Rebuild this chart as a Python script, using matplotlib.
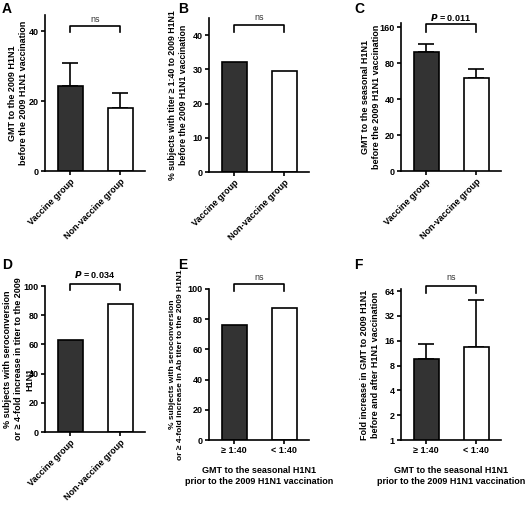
import numpy as np
import matplotlib.pyplot as plt
from matplotlib.transforms import blended_transform_factory

plt.rcParams['font.family'] = ['Liberation Sans', 'DejaVu Sans']
plt.rcParams['font.weight'] = 'bold'

W, H = 528, 511

# Data
groups = ['Vaccine group', 'Non-vaccine group']
titer_groups = ['\u2265 1:40', '< 1:40']

a_vals = [24.3, 18.0]
a_err = [6.6, 4.3]
b_vals = [32.2, 29.5]
c_vals = [99, 60]
c_err = [16, 11]
d_vals = [63, 88]
e_vals = [76, 87.5]
f_vals = [9.7, 13.6]
f_err = [5.1, 36.8]

c_ticks = [10, 20, 40, 80, 160]
c_ticklabels = ['0', '20', '40', '80', '160']
f_ticks = [1, 2, 4, 8, 16, 32, 64]

dark = '#333333'

fig = plt.figure(figsize=(W / 100, H / 100), dpi=100)


def make_ax(l, r, t, b):
    ax = fig.add_axes([l / W, 1 - b / H, (r - l) / W, (b - t) / H])
    ax.rect_px = (l, r, t, b)
    for s in ['top', 'right']:
        ax.spines[s].set_visible(False)
    for s in ['left', 'bottom']:
        ax.spines[s].set_linewidth(1.2)
    ax.tick_params(direction='out', length=3, width=1.2, labelsize=6.5, pad=1.5)
    ax.set_xlim(-0.5, 1.5)
    ax.set_xticks([0, 1])
    return ax


def bars(ax, vals, err=None):
    ax.bar([0, 1], vals, width=0.5, color=[dark, 'white'], edgecolor='black',
           linewidth=1.2, zorder=2)
    if err is not None:
        ax.errorbar([0, 1], vals, yerr=[[0, 0], err], fmt='none', ecolor='black',
                    elinewidth=1.2, capsize=5.5, capthick=1.2, zorder=1)


def bracket(ax, y_line, y_tick, y_text, label, italic_p=False):
    l, r, t, b = ax.rect_px
    f = lambda y: (b - y) / (b - t)
    tr = blended_transform_factory(ax.transData, ax.transAxes)
    ax.plot([0, 0, 1, 1], [f(y_tick), f(y_line), f(y_line), f(y_tick)],
            color='black', lw=1.2, transform=tr, clip_on=False)
    if italic_p:
        ax.text(0.5, f(y_text), r'$\bf{\it{P}}$' + label, transform=tr,
                ha='center', va='center', fontsize=6.5, fontweight='bold')
    else:
        ax.text(0.5, f(y_text), label, transform=tr, ha='center', va='center',
                fontsize=6.5, fontweight='normal', color='#333333')


def ylabel(ax, x_px, text, size=6.5, y_px=None):
    l, r, t, b = ax.rect_px
    if y_px is None:
        y_px = (t + b) / 2
    fig.text(x_px / W, 1 - y_px / H, text, rotation=90, ha='center',
             va='center', multialignment='center', fontsize=size, fontweight='bold')


def letter(x, y, s):
    fig.text(x / W, 1 - y / H, s, fontsize=10, fontweight='bold', va='top', ha='left')


# A
ax = make_ax(45, 145, 15, 171)
bars(ax, a_vals, a_err)
ax.set_ylim(0, 44.6)
ax.set_yticks([0, 20, 40])
ax.set_xticklabels(groups, rotation=45, ha='right', rotation_mode='anchor')
bracket(ax, 26, 32, 19, 'ns')
ylabel(ax, 18, 'GMT to the 2009 H1N1\nbefore the 2009 H1N1 vaccination')
letter(2, 2, 'A')

# B
ax = make_ax(209, 309, 18, 172)
bars(ax, b_vals)
ax.set_ylim(0, 45)
ax.set_yticks([0, 10, 20, 30, 40])
ax.set_xticklabels(groups, rotation=45, ha='right', rotation_mode='anchor')
bracket(ax, 25, 32, 18, 'ns')
ylabel(ax, 178, '% subjects with titer \u2265 1:40 to 2009 H1N1\nbefore the 2009 H1N1 vaccination',
       size=6.3)
letter(178, 2, 'B')

# C
ax = make_ax(401, 501, 23, 171)
ax.set_yscale('log', base=2)
bars(ax, c_vals, c_err)
ax.set_ylim(10, 173)
ax.set_yticks(c_ticks)
ax.set_yticklabels(c_ticklabels)
ax.minorticks_off()
ax.set_xticklabels(groups, rotation=45, ha='right', rotation_mode='anchor')
bracket(ax, 24, 32, 17, ' = 0.011', italic_p=True)
ylabel(ax, 371, 'GMT to the seasonal H1N1\nbefore the 2009 H1N1 vaccination')
letter(354, 2, 'C')

# D
ax = make_ax(45, 145, 286, 432)
bars(ax, d_vals)
ax.set_ylim(0, 100)
ax.set_yticks([0, 20, 40, 60, 80, 100])
ax.set_xticklabels(groups, rotation=45, ha='right', rotation_mode='anchor')
bracket(ax, 284, 290, 275, ' = 0.034', italic_p=True)
ylabel(ax, 13, '% subjects with seroconversion\nor \u2265 4-fold increase in titer to the 2009')
ylabel(ax, 30, 'H1N1', y_px=379)
letter(2, 258, 'D')

# E
ax = make_ax(209, 309, 289, 440)
bars(ax, e_vals)
ax.set_ylim(0, 100)
ax.set_yticks([0, 20, 40, 60, 80, 100])
ax.set_xticklabels(titer_groups)
ax.set_xlabel('GMT to the seasonal H1N1\nprior to the 2009 H1N1 vaccination', fontsize=6.5,
              fontweight='bold', labelpad=8)
bracket(ax, 284, 291, 277, 'ns')
ylabel(ax, 177, '% subjects with seroconversion\nor \u2265 4-fold increase in Ab titer to the 2009 H1N1',
       size=6.0)
letter(178, 258, 'E')

# F
ax = make_ax(401, 501, 289, 440)
ax.set_yscale('log', base=2)
bars(ax, f_vals, f_err)
ax.set_ylim(1, 68)
ax.set_yticks(f_ticks)
ax.set_yticklabels([str(v) for v in f_ticks])
ax.minorticks_off()
ax.set_xticklabels(titer_groups)
ax.set_xlabel('GMT to the seasonal H1N1\nprior to the 2009 H1N1 vaccination', fontsize=6.5,
              fontweight='bold', labelpad=8)
bracket(ax, 286, 293, 277, 'ns')
ylabel(ax, 370, 'Fold increase in GMT to 2009 H1N1\nbefore and after H1N1 vaccination')
letter(354, 258, 'F')

fig.savefig('out.png', dpi=100)
